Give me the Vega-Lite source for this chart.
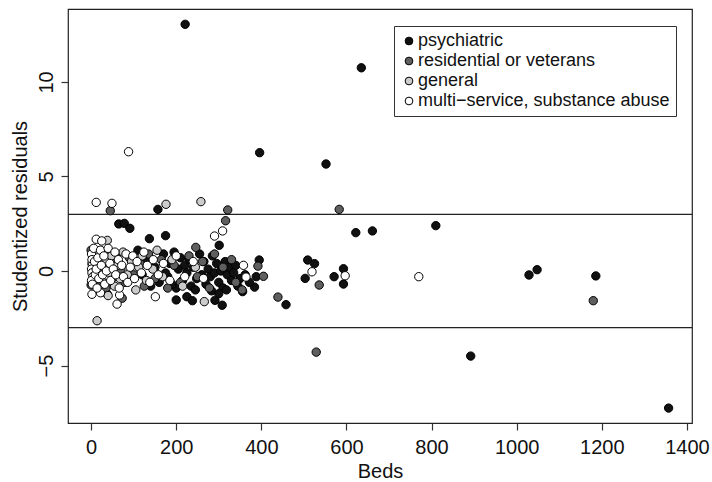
{
  "$schema": "https://vega.github.io/schema/vega-lite/v6.json",
  "width": 624,
  "height": 414,
  "autosize": {"type": "none"},
  "padding": {"left": 68, "top": 9, "right": 20, "bottom": 59},
  "background": "white",
  "config": {
    "font": "Liberation Sans",
    "view": {"stroke": "#222222", "strokeWidth": 1.2},
    "axis": {
      "grid": false,
      "domain": false,
      "tickSize": 7,
      "tickColor": "#333333",
      "tickWidth": 1.2,
      "labelFontSize": 20,
      "labelColor": "#111111",
      "titleFontSize": 20,
      "titleFontWeight": "normal",
      "titleColor": "#111111"
    }
  },
  "layer": [
    {
      "data": {"values": [{"h": 3}, {"h": -3}]},
      "mark": {"type": "rule", "color": "#222222", "strokeWidth": 1.2},
      "encoding": {
        "y": {
          "field": "h",
          "type": "quantitative",
          "title": "Studentized residuals",
          "scale": {"domain": [-8.04, 13.86], "nice": false, "zero": false}
        }
      }
    },
    {
      "data": {
        "values": [
          {"beds": 221, "resid": 13.05, "type": "psychiatric"},
          {"beds": 635, "resid": 10.75, "type": "psychiatric"},
          {"beds": 396, "resid": 6.26, "type": "psychiatric"},
          {"beds": 552, "resid": 5.66, "type": "psychiatric"},
          {"beds": 157, "resid": 3.26, "type": "psychiatric"},
          {"beds": 622, "resid": 2.03, "type": "psychiatric"},
          {"beds": 661, "resid": 2.12, "type": "psychiatric"},
          {"beds": 810, "resid": 2.4, "type": "psychiatric"},
          {"beds": 65, "resid": 2.49, "type": "psychiatric"},
          {"beds": 78, "resid": 2.52, "type": "psychiatric"},
          {"beds": 91, "resid": 2.26, "type": "psychiatric"},
          {"beds": 137, "resid": 1.71, "type": "psychiatric"},
          {"beds": 175, "resid": 1.87, "type": "psychiatric"},
          {"beds": 301, "resid": 1.36, "type": "psychiatric"},
          {"beds": 1029, "resid": -0.21, "type": "psychiatric"},
          {"beds": 1048, "resid": 0.07, "type": "psychiatric"},
          {"beds": 1186, "resid": -0.26, "type": "psychiatric"},
          {"beds": 892, "resid": -4.5, "type": "psychiatric"},
          {"beds": 1357, "resid": -7.25, "type": "psychiatric"},
          {"beds": 395, "resid": 0.58, "type": "psychiatric"},
          {"beds": 356, "resid": -1.09, "type": "psychiatric"},
          {"beds": 384, "resid": -0.85, "type": "psychiatric"},
          {"beds": 458, "resid": -1.78, "type": "psychiatric"},
          {"beds": 509, "resid": 0.58, "type": "psychiatric"},
          {"beds": 525, "resid": 0.39, "type": "psychiatric"},
          {"beds": 503, "resid": -0.39, "type": "psychiatric"},
          {"beds": 571, "resid": -0.3, "type": "psychiatric"},
          {"beds": 593, "resid": 0.12, "type": "psychiatric"},
          {"beds": 593, "resid": -0.69, "type": "psychiatric"},
          {"beds": 200, "resid": -1.53, "type": "psychiatric"},
          {"beds": 225, "resid": -1.36, "type": "psychiatric"},
          {"beds": 238, "resid": -1.57, "type": "psychiatric"},
          {"beds": 291, "resid": -1.55, "type": "psychiatric"},
          {"beds": 308, "resid": -1.81, "type": "psychiatric"},
          {"beds": 110, "resid": 1.1, "type": "psychiatric"},
          {"beds": 128, "resid": 0.6, "type": "psychiatric"},
          {"beds": 150, "resid": 0.2, "type": "psychiatric"},
          {"beds": 160, "resid": -0.6, "type": "psychiatric"},
          {"beds": 170, "resid": 0.9, "type": "psychiatric"},
          {"beds": 180, "resid": -0.3, "type": "psychiatric"},
          {"beds": 185, "resid": 0.4, "type": "psychiatric"},
          {"beds": 195, "resid": 1.0, "type": "psychiatric"},
          {"beds": 200, "resid": -0.9, "type": "psychiatric"},
          {"beds": 205, "resid": 0.1, "type": "psychiatric"},
          {"beds": 210, "resid": 0.7, "type": "psychiatric"},
          {"beds": 215, "resid": -0.5, "type": "psychiatric"},
          {"beds": 220, "resid": 0.3, "type": "psychiatric"},
          {"beds": 225, "resid": -0.1, "type": "psychiatric"},
          {"beds": 230, "resid": 0.6, "type": "psychiatric"},
          {"beds": 235, "resid": -0.8, "type": "psychiatric"},
          {"beds": 240, "resid": 0.2, "type": "psychiatric"},
          {"beds": 248, "resid": -0.4, "type": "psychiatric"},
          {"beds": 255, "resid": 0.9, "type": "psychiatric"},
          {"beds": 260, "resid": -0.2, "type": "psychiatric"},
          {"beds": 265, "resid": 0.5, "type": "psychiatric"},
          {"beds": 270, "resid": -0.7, "type": "psychiatric"},
          {"beds": 275, "resid": 0.1, "type": "psychiatric"},
          {"beds": 280, "resid": -0.3, "type": "psychiatric"},
          {"beds": 285, "resid": 0.8, "type": "psychiatric"},
          {"beds": 290, "resid": -0.1, "type": "psychiatric"},
          {"beds": 295, "resid": 0.4, "type": "psychiatric"},
          {"beds": 300, "resid": -0.6, "type": "psychiatric"},
          {"beds": 305, "resid": 0.0, "type": "psychiatric"},
          {"beds": 310, "resid": -0.9, "type": "psychiatric"},
          {"beds": 315, "resid": 0.5, "type": "psychiatric"},
          {"beds": 320, "resid": -0.2, "type": "psychiatric"},
          {"beds": 325, "resid": 0.2, "type": "psychiatric"},
          {"beds": 330, "resid": -0.5, "type": "psychiatric"},
          {"beds": 335, "resid": -0.1, "type": "psychiatric"},
          {"beds": 340, "resid": 0.3, "type": "psychiatric"},
          {"beds": 345, "resid": -0.8, "type": "psychiatric"},
          {"beds": 350, "resid": -0.4, "type": "psychiatric"},
          {"beds": 362, "resid": -0.2, "type": "psychiatric"},
          {"beds": 372, "resid": -0.6, "type": "psychiatric"},
          {"beds": 388, "resid": -0.3, "type": "psychiatric"},
          {"beds": 120, "resid": -0.2, "type": "psychiatric"},
          {"beds": 140, "resid": -0.8, "type": "psychiatric"},
          {"beds": 175, "resid": -0.1, "type": "psychiatric"},
          {"beds": 190, "resid": -0.7, "type": "psychiatric"},
          {"beds": 245, "resid": -1.0, "type": "psychiatric"},
          {"beds": 283, "resid": -1.05, "type": "psychiatric"},
          {"beds": 300, "resid": -1.2, "type": "psychiatric"},
          {"beds": 318, "resid": -1.0, "type": "psychiatric"},
          {"beds": 45, "resid": 3.19, "type": "residential or veterans"},
          {"beds": 321, "resid": 3.23, "type": "residential or veterans"},
          {"beds": 316, "resid": 2.66, "type": "residential or veterans"},
          {"beds": 583, "resid": 3.26, "type": "residential or veterans"},
          {"beds": 246, "resid": 1.25, "type": "residential or veterans"},
          {"beds": 392, "resid": 0.26, "type": "residential or veterans"},
          {"beds": 405, "resid": -0.28, "type": "residential or veterans"},
          {"beds": 439, "resid": -1.38, "type": "residential or veterans"},
          {"beds": 536, "resid": -0.74, "type": "residential or veterans"},
          {"beds": 529, "resid": -4.29, "type": "residential or veterans"},
          {"beds": 1180, "resid": -1.57, "type": "residential or veterans"},
          {"beds": 38, "resid": -1.22, "type": "residential or veterans"},
          {"beds": 73, "resid": -1.44, "type": "residential or veterans"},
          {"beds": 0, "resid": 1.1, "type": "residential or veterans"},
          {"beds": 0, "resid": -0.74, "type": "residential or veterans"},
          {"beds": 10, "resid": 0.8, "type": "residential or veterans"},
          {"beds": 18, "resid": -0.5, "type": "residential or veterans"},
          {"beds": 25, "resid": 1.0, "type": "residential or veterans"},
          {"beds": 30, "resid": 0.2, "type": "residential or veterans"},
          {"beds": 35, "resid": -0.9, "type": "residential or veterans"},
          {"beds": 50, "resid": 0.5, "type": "residential or veterans"},
          {"beds": 55, "resid": -0.3, "type": "residential or veterans"},
          {"beds": 60, "resid": 0.9, "type": "residential or veterans"},
          {"beds": 70, "resid": 0.1, "type": "residential or veterans"},
          {"beds": 80, "resid": -0.6, "type": "residential or veterans"},
          {"beds": 90, "resid": 0.7, "type": "residential or veterans"},
          {"beds": 100, "resid": -0.2, "type": "residential or veterans"},
          {"beds": 115, "resid": 0.4, "type": "residential or veterans"},
          {"beds": 125, "resid": -0.8, "type": "residential or veterans"},
          {"beds": 135, "resid": 0.9, "type": "residential or veterans"},
          {"beds": 150, "resid": -0.4, "type": "residential or veterans"},
          {"beds": 165, "resid": 0.6, "type": "residential or veterans"},
          {"beds": 180, "resid": -0.9, "type": "residential or veterans"},
          {"beds": 195, "resid": 0.3, "type": "residential or veterans"},
          {"beds": 210, "resid": -0.6, "type": "residential or veterans"},
          {"beds": 230, "resid": 0.8, "type": "residential or veterans"},
          {"beds": 250, "resid": -0.3, "type": "residential or veterans"},
          {"beds": 262, "resid": 0.5, "type": "residential or veterans"},
          {"beds": 278, "resid": -0.9, "type": "residential or veterans"},
          {"beds": 290, "resid": 0.9, "type": "residential or veterans"},
          {"beds": 310, "resid": 0.2, "type": "residential or veterans"},
          {"beds": 330, "resid": 0.6, "type": "residential or veterans"},
          {"beds": 340, "resid": -0.6, "type": "residential or veterans"},
          {"beds": 355, "resid": -1.0, "type": "residential or veterans"},
          {"beds": 176, "resid": 3.53, "type": "general"},
          {"beds": 258, "resid": 3.67, "type": "general"},
          {"beds": 14, "resid": -2.63, "type": "general"},
          {"beds": 266, "resid": -1.62, "type": "general"},
          {"beds": 38, "resid": 1.62, "type": "general"},
          {"beds": 5, "resid": 0.0, "type": "general"},
          {"beds": 2, "resid": 0.4, "type": "general"},
          {"beds": 8, "resid": -0.3, "type": "general"},
          {"beds": 12, "resid": 0.9, "type": "general"},
          {"beds": 20, "resid": 0.2, "type": "general"},
          {"beds": 28, "resid": -0.6, "type": "general"},
          {"beds": 35, "resid": 0.5, "type": "general"},
          {"beds": 42, "resid": -0.1, "type": "general"},
          {"beds": 48, "resid": 0.8, "type": "general"},
          {"beds": 55, "resid": -0.8, "type": "general"},
          {"beds": 62, "resid": 0.3, "type": "general"},
          {"beds": 68, "resid": -0.4, "type": "general"},
          {"beds": 75, "resid": 1.0, "type": "general"},
          {"beds": 85, "resid": -0.2, "type": "general"},
          {"beds": 95, "resid": 0.5, "type": "general"},
          {"beds": 105, "resid": -1.0, "type": "general"},
          {"beds": 112, "resid": 0.2, "type": "general"},
          {"beds": 120, "resid": 0.8, "type": "general"},
          {"beds": 130, "resid": -0.5, "type": "general"},
          {"beds": 145, "resid": 0.1, "type": "general"},
          {"beds": 155, "resid": 1.1, "type": "general"},
          {"beds": 168, "resid": -0.3, "type": "general"},
          {"beds": 190, "resid": 0.6, "type": "general"},
          {"beds": 215, "resid": -0.8, "type": "general"},
          {"beds": 245, "resid": 0.2, "type": "general"},
          {"beds": 40, "resid": -1.3, "type": "general"},
          {"beds": 88, "resid": 6.31, "type": "multi−service, substance abuse"},
          {"beds": 12, "resid": 3.63, "type": "multi−service, substance abuse"},
          {"beds": 49, "resid": 3.58, "type": "multi−service, substance abuse"},
          {"beds": 309, "resid": 2.12, "type": "multi−service, substance abuse"},
          {"beds": 290, "resid": 1.85, "type": "multi−service, substance abuse"},
          {"beds": 770, "resid": -0.3, "type": "multi−service, substance abuse"},
          {"beds": 358, "resid": 0.3, "type": "multi−service, substance abuse"},
          {"beds": 364, "resid": -0.32, "type": "multi−service, substance abuse"},
          {"beds": 519, "resid": -0.04, "type": "multi−service, substance abuse"},
          {"beds": 597, "resid": -0.25, "type": "multi−service, substance abuse"},
          {"beds": 12, "resid": 1.68, "type": "multi−service, substance abuse"},
          {"beds": 25, "resid": 1.59, "type": "multi−service, substance abuse"},
          {"beds": 2, "resid": -1.23, "type": "multi−service, substance abuse"},
          {"beds": 22, "resid": -1.15, "type": "multi−service, substance abuse"},
          {"beds": 61, "resid": -1.75, "type": "multi−service, substance abuse"},
          {"beds": 67, "resid": -1.27, "type": "multi−service, substance abuse"},
          {"beds": 151, "resid": -1.36, "type": "multi−service, substance abuse"},
          {"beds": 264, "resid": -0.39, "type": "multi−service, substance abuse"},
          {"beds": 1, "resid": 0.9, "type": "multi−service, substance abuse"},
          {"beds": 2, "resid": 0.6, "type": "multi−service, substance abuse"},
          {"beds": 3, "resid": 0.3, "type": "multi−service, substance abuse"},
          {"beds": 1, "resid": 0.1, "type": "multi−service, substance abuse"},
          {"beds": 2, "resid": -0.1, "type": "multi−service, substance abuse"},
          {"beds": 4, "resid": -0.3, "type": "multi−service, substance abuse"},
          {"beds": 1, "resid": -0.5, "type": "multi−service, substance abuse"},
          {"beds": 3, "resid": -0.7, "type": "multi−service, substance abuse"},
          {"beds": 6, "resid": 1.2, "type": "multi−service, substance abuse"},
          {"beds": 8, "resid": 0.5, "type": "multi−service, substance abuse"},
          {"beds": 10, "resid": -0.2, "type": "multi−service, substance abuse"},
          {"beds": 12, "resid": 0.1, "type": "multi−service, substance abuse"},
          {"beds": 14, "resid": -0.9, "type": "multi−service, substance abuse"},
          {"beds": 16, "resid": 0.7, "type": "multi−service, substance abuse"},
          {"beds": 18, "resid": -0.4, "type": "multi−service, substance abuse"},
          {"beds": 22, "resid": 1.1, "type": "multi−service, substance abuse"},
          {"beds": 24, "resid": 0.3, "type": "multi−service, substance abuse"},
          {"beds": 27, "resid": -0.2, "type": "multi−service, substance abuse"},
          {"beds": 30, "resid": 0.8, "type": "multi−service, substance abuse"},
          {"beds": 32, "resid": -0.7, "type": "multi−service, substance abuse"},
          {"beds": 36, "resid": 0.0, "type": "multi−service, substance abuse"},
          {"beds": 40, "resid": 1.2, "type": "multi−service, substance abuse"},
          {"beds": 44, "resid": 0.4, "type": "multi−service, substance abuse"},
          {"beds": 46, "resid": -0.5, "type": "multi−service, substance abuse"},
          {"beds": 52, "resid": 0.1, "type": "multi−service, substance abuse"},
          {"beds": 56, "resid": 1.0, "type": "multi−service, substance abuse"},
          {"beds": 58, "resid": -0.2, "type": "multi−service, substance abuse"},
          {"beds": 64, "resid": 0.6, "type": "multi−service, substance abuse"},
          {"beds": 66, "resid": -0.9, "type": "multi−service, substance abuse"},
          {"beds": 72, "resid": 0.3, "type": "multi−service, substance abuse"},
          {"beds": 76, "resid": -0.3, "type": "multi−service, substance abuse"},
          {"beds": 82, "resid": 0.9, "type": "multi−service, substance abuse"},
          {"beds": 86, "resid": -0.6, "type": "multi−service, substance abuse"},
          {"beds": 92, "resid": 0.2, "type": "multi−service, substance abuse"},
          {"beds": 98, "resid": 0.8, "type": "multi−service, substance abuse"},
          {"beds": 102, "resid": -0.4, "type": "multi−service, substance abuse"},
          {"beds": 108, "resid": 0.5, "type": "multi−service, substance abuse"},
          {"beds": 118, "resid": -0.1, "type": "multi−service, substance abuse"},
          {"beds": 124, "resid": 1.0, "type": "multi−service, substance abuse"},
          {"beds": 132, "resid": 0.3, "type": "multi−service, substance abuse"},
          {"beds": 138, "resid": -0.6, "type": "multi−service, substance abuse"},
          {"beds": 146, "resid": 0.6, "type": "multi−service, substance abuse"},
          {"beds": 158, "resid": -0.2, "type": "multi−service, substance abuse"},
          {"beds": 170, "resid": 0.4, "type": "multi−service, substance abuse"},
          {"beds": 185, "resid": -0.5, "type": "multi−service, substance abuse"},
          {"beds": 200, "resid": 0.8, "type": "multi−service, substance abuse"},
          {"beds": 220, "resid": -0.3, "type": "multi−service, substance abuse"},
          {"beds": 240, "resid": 0.5, "type": "multi−service, substance abuse"}
        ]
      },
      "mark": {"type": "point", "shape": "circle", "filled": true, "size": 70, "stroke": "#000000", "strokeWidth": 1, "opacity": 1},
      "encoding": {
        "x": {
          "field": "beds",
          "type": "quantitative",
          "title": "Beds",
          "scale": {"domain": [-54.3, 1412], "nice": false, "zero": false},
          "axis": {
            "values": [0, 200, 400, 600, 800, 1000, 1200, 1400],
            "format": "d",
            "labelPadding": 7,
            "labelFlush": false,
            "titleBaseline": "alphabetic",
            "titleY": 54
          }
        },
        "y": {
          "field": "resid",
          "type": "quantitative",
          "title": "Studentized residuals",
          "scale": {"domain": [-8.04, 13.86], "nice": false, "zero": false},
          "axis": {
            "values": [-5, 0, 5, 10],
            "labelAngle": -90,
            "labelAlign": "center",
            "labelBaseline": "alphabetic",
            "labelPadding": 9,
            "labelFlush": false,
            "titleAngle": -90,
            "titleAlign": "center",
            "titleBaseline": "alphabetic",
            "titleX": -42,
            "titleY": 207
          }
        },
        "fill": {
          "field": "type",
          "type": "nominal",
          "scale": {
            "domain": ["psychiatric", "residential or veterans", "general", "multi−service, substance abuse"],
            "range": ["#111111", "#5f5f5f", "#cccccc", "#ffffff"]
          },
          "legend": {
            "title": null,
            "orient": "none",
            "legendX": 326,
            "legendY": 17,
            "fillColor": "white",
            "strokeColor": "#333333",
            "cornerRadius": 0,
            "padding": 6,
            "rowPadding": 2,
            "symbolType": "circle",
            "symbolSize": 60,
            "symbolStrokeColor": "#000000",
            "symbolStrokeWidth": 1,
            "symbolOpacity": 1,
            "labelFontSize": 18,
            "labelColor": "#111111",
            "labelOffset": 0,
            "labelLimit": 400
          }
        }
      }
    }
  ]
}
